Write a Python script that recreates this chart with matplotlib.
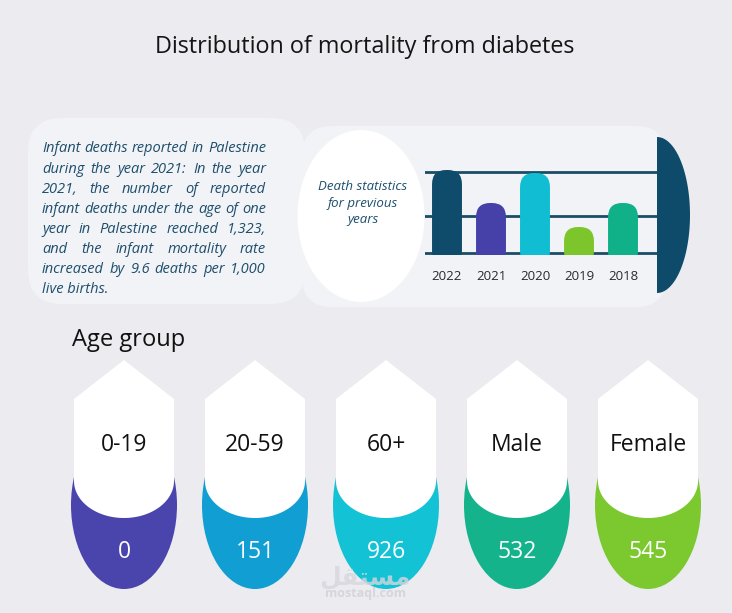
import numpy as np
import matplotlib.pyplot as plt
from matplotlib.patches import FancyBboxPatch, Ellipse, Polygon

plt.rcParams['font.family'] = ['Open Sans', 'DejaVu Sans']

# ---- data ----
title = "Distribution of mortality from diabetes"
note_lines = [
    "Infant deaths reported in Palestine",
    "during the year 2021: In the year",
    "2021, the number of reported",
    "infant deaths under the age of one",
    "year in Palestine reached 1,323,",
    "and the infant mortality rate",
    "increased by 9.6 deaths per 1,000",
    "live births.",
]
panel_caption = ["Death statistics", "for previous", "years"]
years = ["2022", "2021", "2020", "2019", "2018"]
year_level = [83, 50, 80, 26, 50]          # bar heights as drawn (no scale given)
year_colors = ["#0f4b6a", "#4541a9", "#10bdd3", "#7cc62c", "#10b089"]
grid_levels = [0, 37, 81]

groups = ["0-19", "20-59", "60+", "Male", "Female"]
deaths = [0, 151, 926, 532, 545]
group_colors = ["#4a44ad", "#119ed2", "#14c2d6", "#15b38c", "#7bc92f"]

# ---- canvas in pixel units ----
W, H = 732, 613
fig = plt.figure(figsize=(W / 100, H / 100), dpi=100)
fig.patch.set_facecolor("#ebebf0")
ax = fig.add_axes([0, 0, 1, 1])
ax.set_xlim(0, W)
ax.set_ylim(H, 0)
ax.axis("off")
renderer = fig.canvas.get_renderer()

ax.text(365, 47, title, fontsize=16.8, color="#151515", ha="center", va="center")

# left note box
ax.add_patch(FancyBboxPatch((28, 118), 277, 186, boxstyle="round,pad=0,rounding_size=34",
                            fc="#f2f3f7", ec="none"))


def text_width(s, size, **kw):
    t = ax.text(0, 0, s, fontsize=size, **kw)
    w = t.get_window_extent(renderer).width
    t.remove()
    return w


note_col = "#1d4e6b"
x0, x1 = 42, 266
fs = 10 * (x1 - x0) / text_width(note_lines[0], 10, style="italic")
for i, line in enumerate(note_lines):
    y = 149 + i * 20.1
    words = line.split()
    if i == len(note_lines) - 1 or len(words) == 1:
        ax.text(x0, y, line, fontsize=fs, style="italic", color=note_col, ha="left", va="center")
        continue
    ws = [text_width(w, fs, style="italic") for w in words]
    gap = (x1 - x0 - sum(ws)) / (len(words) - 1)
    x = x0
    for w, wd in zip(words, ws):
        ax.text(x, y, w, fontsize=fs, style="italic", color=note_col, ha="left", va="center")
        x += wd + gap

# right panel
ax.add_patch(FancyBboxPatch((302, 126), 364, 181, boxstyle="round,pad=0,rounding_size=30",
                            fc="#f2f3f7", ec="none"))
ax.add_patch(Ellipse((361, 216), 127, 172, fc="white", ec="none"))
t = np.linspace(-np.pi / 2, np.pi / 2, 80)
ax.add_patch(Polygon(np.column_stack([657 + 33 * np.cos(t), 215 + 78 * np.sin(t)]),
                     closed=True, fc="#0e4b6b", ec="none"))
for i, s in enumerate(panel_caption):
    ax.text(363, 186 + i * 17, s, fontsize=9.5, style="italic", color=note_col,
            ha="center", va="center")

# bar chart
bx = fig.add_axes([425 / W, 1 - 255 / H, 232 / W, 90 / H])
bx.set_facecolor("none")
bars = bx.bar(range(len(years)), year_level, width=0.68, color=year_colors, zorder=3)
xpx = 44  # pixels per category unit
for b, c in zip(bars, year_colors):
    b.set_visible(False)
    bx.add_patch(FancyBboxPatch((b.get_x(), -12), b.get_width(), b.get_height() + 12,
                                boxstyle="round,pad=0,rounding_size=0.32", mutation_aspect=xpx,
                                fc=c, ec="none", zorder=3))
bx.set_xlim(-0.5, -0.5 + 232 / xpx)
bx.set_ylim(-2, 88)
bx.set_yticks(grid_levels)
bx.set_yticklabels([])
bx.grid(axis="y", color="#1b4e66", lw=2, zorder=1)
bx.set_axisbelow(True)
bx.set_xticks(range(len(years)))
bx.set_xticklabels(years, fontsize=9.5, color="#2a2a2a")
bx.tick_params(length=0, pad=11)
for sp in bx.spines.values():
    sp.set_visible(False)

# age groups
ax.text(72, 340, "Age group", fontsize=17, color="#111111", ha="left", va="center")
arc = np.linspace(0, np.pi, 60)
for i, (g, v, c) in enumerate(zip(groups, deaths, group_colors)):
    cx = 124 + 131 * i
    ax.add_patch(Ellipse((cx, 505), 106, 168, fc=c, ec="none"))
    pts = [(cx, 360), (cx + 50, 399)]
    pts += list(zip(cx + 50 * np.cos(arc), 481 + 37 * np.sin(arc)))
    pts += [(cx - 50, 399)]
    ax.add_patch(Polygon(pts, closed=True, fc="white", ec="none"))
    ax.text(cx, 445, g, fontsize=16.5, color="#111111", ha="center", va="center")
    ax.text(cx, 552, str(v), fontsize=16.5, color="white", ha="center", va="center")

# watermark
ax.text(365, 577, "\uFEDE\uFED8\uFE98\uFEB4\uFEE3", fontsize=18, fontweight="bold",
        color="#d6d6dc", ha="center", va="center", family=["DejaVu Sans"], alpha=0.8)
ax.text(365, 594, "mostaql.com", fontsize=9, fontweight="bold", color="#d0d0d6",
        ha="center", va="center", alpha=0.8)

fig.savefig("out.png", dpi=100, facecolor=fig.get_facecolor())
